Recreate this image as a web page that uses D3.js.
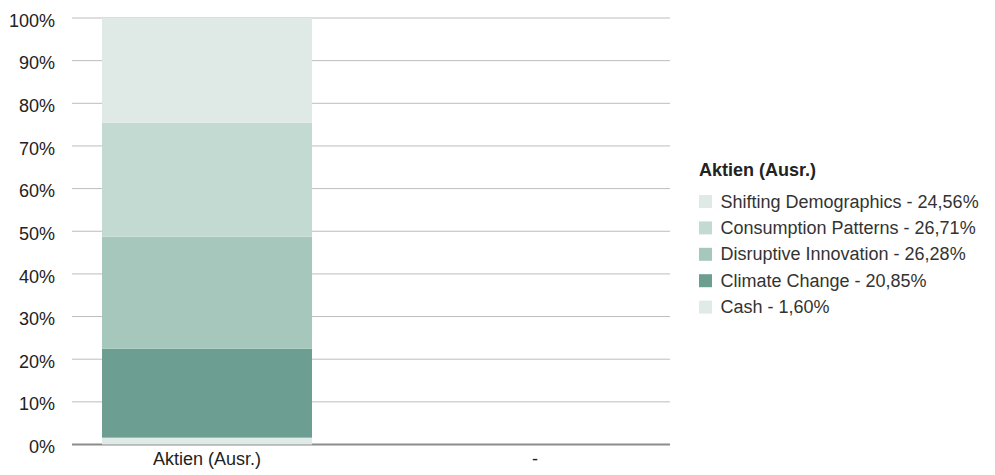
<!DOCTYPE html>
<html>
<head>
<meta charset="utf-8">
<script src="https://cdn.jsdelivr.net/npm/d3@7"></script>
<style>
  body { margin: 0; background: #fff; }
  text { font-family: "Liberation Sans", Arial, Helvetica, sans-serif; }
</style>
</head>
<body>
<div id="chart"></div>
<script>
// categories on the x axis
var categories = ["Aktien (Ausr.)", "-"];
// series, bottom to top of the stack
var seriesNames = ["Cash", "Climate Change", "Disruptive Innovation", "Consumption Patterns", "Shifting Demographics"];
var seriesValues = [1.60, 20.85, 26.28, 26.71, 24.56];
var seriesColors = ["#e0eae6", "#6c9f91", "#a6c7bc", "#c3dad3", "#dfe9e6"];
var tickValues = [0, 10, 20, 30, 40, 50, 60, 70, 80, 90, 100];
var legendTitle = "Aktien (Ausr.)";

var svg = d3.select("#chart").append("svg").attr("width", 995).attr("height", 475);

// margins
var margin = { left: 72, top: 18, right: 325, bottom: 30.5 };
var width = 995 - margin.left - margin.right;
var height = 475 - margin.top - margin.bottom;

var chart = svg.append("g").attr("transform", "translate(" + margin.left + "," + margin.top + ")");

// scales
var x = d3.scaleBand()
    .domain(categories)
    .range([-29, 627])
    .paddingInner(118 / 328)
    .paddingOuter(59 / 328);

var y = d3.scaleLinear().domain([0, 100]).range([height, 0]);

// gridlines
chart.append("g")
    .selectAll("line")
    .data(tickValues)
    .enter().append("line")
    .attr("x1", 0).attr("x2", width)
    .attr("y1", d => y(d)).attr("y2", d => y(d))
    .attr("stroke", d => d === 0 ? "#8c8c8c" : "#bdbdbd")
    .attr("stroke-width", d => d === 0 ? 2 : 1);

// y axis labels
var yAxis = chart.append("g")
    .call(d3.axisLeft(y).tickValues(tickValues).tickSize(0).tickPadding(17).tickFormat(d => d + "%"));
yAxis.select(".domain").remove();
yAxis.selectAll("text")
    .attr("dy", "0.45em")
    .attr("font-size", "18px").attr("fill", "#222").attr("font-family", "Liberation Sans, Arial, sans-serif");

// stacked bar (only first category has data)
var stackData = [];
var cum = 0;
seriesValues.forEach(function (v, i) {
    stackData.push({ name: seriesNames[i], y0: cum, y1: cum + v, color: seriesColors[i] });
    cum += v;
});

chart.selectAll("rect.seg")
    .data(stackData)
    .enter().append("rect")
    .attr("class", "seg")
    .attr("x", x(categories[0]))
    .attr("width", x.bandwidth())
    .attr("y", d => y(d.y1))
    .attr("height", d => y(d.y0) - y(d.y1))
    .attr("fill", d => d.color);

// x axis labels
var xAxis = chart.append("g")
    .attr("transform", "translate(0," + height + ")")
    .call(d3.axisBottom(x).tickSize(0).tickPadding(8));
xAxis.select(".domain").remove();
xAxis.selectAll("text").attr("font-size", "18px").attr("fill", "#222").attr("font-family", "Liberation Sans, Arial, sans-serif");

// legend
var legend = svg.append("g").attr("transform", "translate(699,0)");
legend.append("text")
    .attr("x", 0).attr("y", 176)
    .attr("font-size", "18px").attr("font-weight", "bold").attr("fill", "#222")
    .text(legendTitle);

var legendItems = stackData.slice().reverse();
var rows = legend.selectAll("g.row")
    .data(legendItems)
    .enter().append("g")
    .attr("class", "row")
    .attr("transform", (d, i) => "translate(0," + (201.5 + i * 26.4) + ")");

rows.append("rect")
    .attr("x", 0).attr("y", -6.5)
    .attr("width", 13).attr("height", 13)
    .attr("fill", d => d.color);

rows.append("text")
    .attr("x", 21.5).attr("y", 6)
    .attr("font-size", "18px").attr("fill", "#333")
    .text(d => d.name + " - " + d3.format(".2f")(d.y1 - d.y0).replace(".", ",") + "%");
</script>
</body>
</html>
